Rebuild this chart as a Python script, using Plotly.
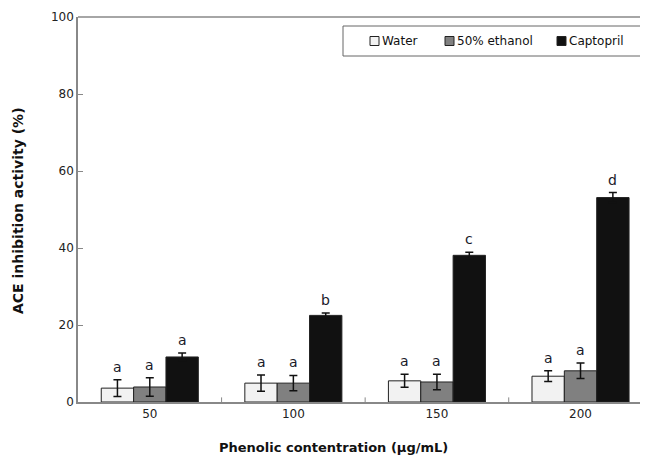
import plotly.graph_objects as go

categories = ["50", "100", "150", "200"]
water = [3.6, 4.9, 5.5, 6.7]
water_err = [2.2, 2.1, 1.7, 1.4]
ethanol = [3.9, 4.9, 5.2, 8.1]
ethanol_err = [2.4, 2.0, 2.0, 2.0]
captopril = [11.7, 22.5, 38.1, 53.1]
captopril_err = [1.0, 0.6, 0.8, 1.3]
water_letters = ["a", "a", "a", "a"]
ethanol_letters = ["a", "a", "a", "a"]
captopril_letters = ["a", "b", "c", "d"]

series = [
    ("Water", water, water_err, water_letters, "#F2F2F2"),
    ("50% ethanol", ethanol, ethanol_err, ethanol_letters, "#808080"),
    ("Captopril", captopril, captopril_err, captopril_letters, "#111111"),
]

# page body margin (8px) offsets the figure inside the window
OFF = 8
W, H = 648 - OFF, 463 - OFF
L, R, T, B = 78 - OFF, 0, 17 - OFF, 61
xpos = list(range(len(categories)))
fig = go.Figure()
nser = len(series)
group_w = 1 - 0.324
bw = group_w / nser
for i, (name, vals, errs, letters, color) in enumerate(series):
    fig.add_trace(go.Bar(
        x=xpos, y=vals, name=name,
        marker=dict(color=color, line=dict(color="#222222", width=1)),
        error_y=dict(type="data", array=errs, visible=True, color="#111111", thickness=1.5, width=4),
        offsetgroup=str(i), showlegend=False,
    ))
    off = (i - (nser - 1) / 2) * bw
    for x, v, e, t in zip(xpos, vals, errs, letters):
        fig.add_annotation(x=x + off, y=v + e, text=t, showarrow=False,
                           yanchor="middle", yshift=13,
                           font=dict(family="DejaVu Sans", size=14, color="#1a1a2a"))

fig.update_layout(
    width=W, height=H,
    margin=dict(l=L, r=R, t=T, b=B, autoexpand=False),
    plot_bgcolor="white", paper_bgcolor="white",
    barmode="group", bargap=0.324, bargroupgap=0,
    font=dict(family="DejaVu Sans", size=12, color="#222222"),
    showlegend=False,
    xaxis=dict(
        range=[-0.5, 3.47], tickvals=xpos, ticktext=categories,
        showline=True, linecolor="#888888", linewidth=1.5,
        ticks="", showgrid=False, zeroline=False, automargin=False,
        tickfont=dict(size=12, color="#222222"),
    ),
    yaxis=dict(
        range=[0, 100], tickvals=[0, 20, 40, 60, 80, 100],
        showline=True, linecolor="#888888", linewidth=1.5,
        ticks="inside", ticklen=5, tickcolor="#888888",
        showgrid=False, zeroline=False, automargin=False,
        tickfont=dict(size=12, color="#222222"),
    ),
)

pw, ph = W - L - R, H - T - B
def px(xw): return (xw - OFF - L) / pw          # window px -> paper x
def py(yw): return 1 - (yw - OFF - T) / ph      # window px -> paper y

# axis titles
fig.add_annotation(xref="paper", yref="paper", x=px(333), y=py(447),
                   text="<b>Phenolic contentration (μg/mL)</b>", showarrow=False,
                   xanchor="center", yanchor="middle", font=dict(size=13, color="#111111"))
fig.add_annotation(xref="paper", yref="paper", x=px(18), y=py(211),
                   text="<b>ACE inhibition activity (%)</b>", showarrow=False, textangle=-90,
                   xanchor="center", yanchor="middle", font=dict(size=14, color="#111111"))
# top frame line
fig.add_shape(type="line", xref="paper", yref="paper", x0=0, x1=1, y0=1, y1=1,
              line=dict(color="#888888", width=1.5))
# minor category-boundary ticks on x axis
for b in [0.5, 1.5, 2.5]:
    fig.add_shape(type="line", xref="x", yref="y", x0=b, x1=b, y0=0, y1=1.2,
                  line=dict(color="#888888", width=1))

# custom legend
fig.add_shape(type="rect", xref="paper", yref="paper", x0=px(343), x1=px(643), y0=py(26), y1=py(56),
              line=dict(color="#666666", width=1), fillcolor="white")
legend_items = [(s[0], s[4]) for s in series]
item_x = [370, 445, 557]
for (name, color), x0 in zip(legend_items, item_x):
    fig.add_shape(type="rect", xref="paper", yref="paper", x0=px(x0), x1=px(x0 + 9),
                  y0=py(45.5), y1=py(36.5), line=dict(color="#222222", width=1), fillcolor=color)
    fig.add_annotation(xref="paper", yref="paper", x=px(x0 + 10), y=py(41), text=name,
                       showarrow=False, xanchor="left", yanchor="middle",
                       font=dict(family="DejaVu Sans", size=12, color="#111111"))

fig.write_html("out.html")
